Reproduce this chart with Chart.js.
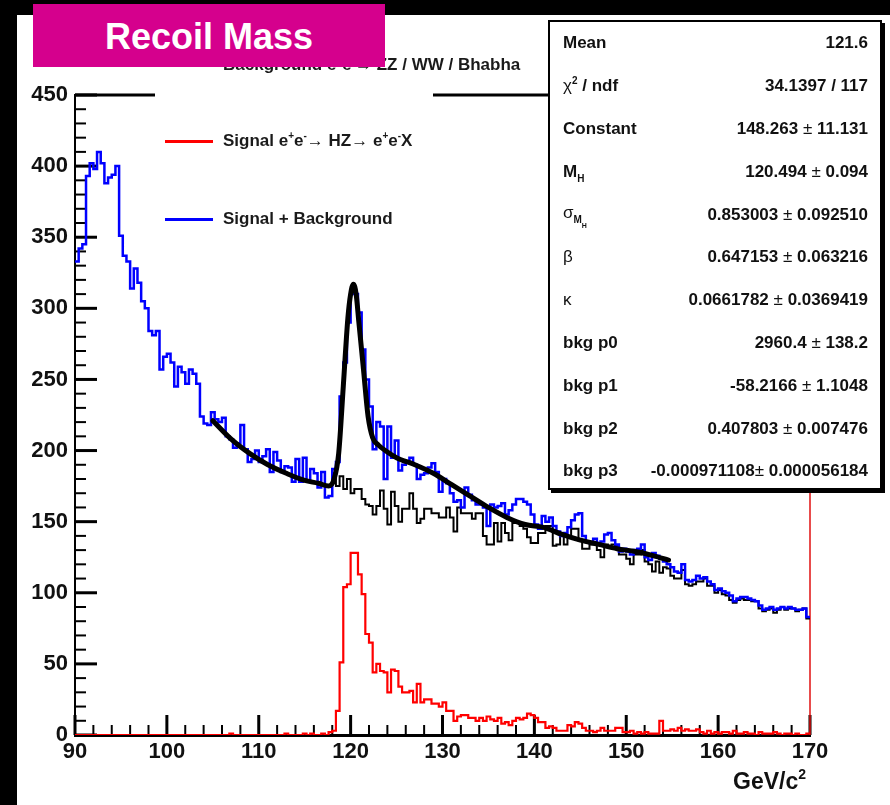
<!DOCTYPE html>
<html>
<head>
<meta charset="utf-8">
<script src="https://cdn.jsdelivr.net/npm/chart.js@4.4.1/dist/chart.umd.min.js"></script>
<style>
  html, body { margin: 0; padding: 0; background: #000; }
  #page { position: relative; width: 890px; height: 805px; overflow: hidden; background: #000;
          font-family: "Liberation Sans", Arial, sans-serif; }
  #paper { position: absolute; left: 17px; top: 15px; right: 0; bottom: 0; background: #fff; }
  #myChart { position: absolute; left: 0; top: 0; }
  #title { position: absolute; left: 33px; top: 4px; width: 352px; height: 63px; background: #d5008d;
           color: #fff; font-weight: bold; font-size: 36px; line-height: 66px; text-align: center; z-index: 5; }
  #legend { position: absolute; left: 155px; top: 48px; width: 278px; height: 192px; background: #fff; z-index: 3; }
  .entry { position: absolute; left: 10px; height: 24px; white-space: nowrap; font-weight: bold;
           font-size: 17px; color: #1a1a1a; }
  .entry .swatch { position: absolute; left: 0; top: 11px; width: 48px; height: 3px; }
  .entry .txt { position: absolute; left: 58px; top: 0; line-height: 24px; }
  sup, sub { font-size: 10px; line-height: 0; }
  sup { vertical-align: 7px; }
  sub { vertical-align: -5px; }
  .sym { font-weight: normal; }
  #stats { position: absolute; left: 548px; top: 20px; width: 334px; height: 470px; box-sizing: border-box;
           border: 2px solid #000; box-shadow: 3px 3px 0 #000; background: #fff; z-index: 4; }
  .row { height: 42.8px; display: flex; justify-content: space-between; align-items: center;
         padding: 0 12px 0 13px; font-weight: bold; font-size: 17px; color: #111; white-space: nowrap; }
  #xtitle { position: absolute; left: 733px; top: 768px; font-weight: bold; font-size: 23px; color: #111; z-index: 2; }
  #xtitle sup { font-size: 14px; vertical-align: 10px; }
</style>
</head>
<body>
<div id="page">
  <div id="paper"></div>
  <canvas id="myChart" width="890" height="805"></canvas>

  <div id="legend">
    <div class="entry" style="top:5px"><span class="swatch" style="background:#000"></span><span class="txt">Background e<sup>+</sup>e<sup>-</sup><span class="sym">→</span> ZZ / WW / Bhabha</span></div>
    <div class="entry" style="top:81px"><span class="swatch" style="background:#ff0000"></span><span class="txt">Signal e<sup>+</sup>e<sup>-</sup><span class="sym">→</span> HZ<span class="sym">→</span> e<sup>+</sup>e<sup>-</sup>X</span></div>
    <div class="entry" style="top:159px"><span class="swatch" style="background:#0000ff"></span><span class="txt">Signal + Background</span></div>
  </div>

  <div id="title">Recoil Mass</div>

  <div id="stats">
    <div class="row"><span>Mean</span><span>121.6</span></div>
    <div class="row"><span><span class="sym">χ</span><sup>2</sup> / ndf</span><span>34.1397 / 117</span></div>
    <div class="row"><span>Constant</span><span>148.263 <span class="sym">±</span> 11.131</span></div>
    <div class="row"><span>M<sub>H</sub></span><span>120.494 <span class="sym">±</span> 0.094</span></div>
    <div class="row"><span><span class="sym">σ</span><sub>M<sub style="font-size:7px">H</sub></sub></span><span>0.853003 <span class="sym">±</span> 0.092510</span></div>
    <div class="row"><span class="sym">β</span><span>0.647153 <span class="sym">±</span> 0.063216</span></div>
    <div class="row"><span class="sym">κ</span><span>0.0661782 <span class="sym">±</span> 0.0369419</span></div>
    <div class="row"><span>bkg p0</span><span>2960.4 <span class="sym">±</span> 138.2</span></div>
    <div class="row"><span>bkg p1</span><span>-58.2166 <span class="sym">±</span> 1.1048</span></div>
    <div class="row"><span>bkg p2</span><span>0.407803 <span class="sym">±</span> 0.007476</span></div>
    <div class="row"><span>bkg p3</span><span>-0.000971108<span class="sym">±</span> 0.000056184</span></div>
  </div>

  <div id="xtitle">GeV/c<sup>2</sup></div>
</div>

<script>
// histogram binning: 200 bins of 0.4 GeV from 90 to 170
const binLow = 90
const binWidth = 0.4

// signal + background (blue)
const sumCounts = [
  333, 342, 345, 393, 402, 398, 410, 402, 388, 392,
  394, 400, 351, 337, 333, 314, 328, 318, 305, 300,
  284, 281, 284, 257, 266, 268, 262, 245, 259, 255,
  247, 257, 254, 247, 224, 219, 218, 227, 222, 220,
  223, 210, 208, 202, 205, 218, 201, 192, 194, 200,
  192, 196, 201, 185, 199, 193, 185, 189, 188, 178,
  194, 178, 195, 178, 187, 184, 174, 185, 167, 168,
  187, 192, 238, 262, 290, 312, 310, 297, 271, 250,
  231, 201, 220, 217, 180, 217, 195, 207, 186, 190,
  192, 195, 190, 180, 183, 184, 188, 191, 185, 171,
  180, 177, 170, 164, 165, 160, 174, 169, 165, 162,
  162, 160, 147, 162, 160, 161, 163, 155, 158, 162,
  166, 166, 164, 162, 155, 148, 145, 154, 150, 153,
  147, 143, 140, 142, 146, 151, 155, 156, 140, 136,
  135, 138, 135, 136, 141, 142, 137, 134, 129, 131,
  129, 127, 130, 131, 134, 125, 123, 128, 126, 124,
  122, 120, 118, 115, 114, 120, 109, 108, 109, 112,
  110, 111, 108, 106, 102, 103, 101, 100, 98, 94,
  96, 97, 97, 96, 95, 94, 91, 88, 89, 90,
  88, 89, 90, 89, 90, 89, 88, 88, 89, 83
]

// signal only (red)
const sigCounts = [
  0, 0, 0, 0, 0, 0, 0, 0, 0, 0,
  0, 0, 0, 0, 0, 0, 0, 0, 0, 0,
  0, 0, 0, 0, 0, 0, 0, 0, 0, 0,
  0, 0, 0, 0, 0, 0, 0, 0, 0, 0,
  0, 0, 1, 0, 0, 0, 0, 0, 0, 0,
  0, 0, 0, 0, 0, 0, 0, 1, 0, 0,
  0, 0, 1, 0, 1, 0, 0, 1, 0, 2,
  3, 17, 51, 104, 106, 128, 128, 113, 99, 71,
  65, 44, 50, 45, 44, 30, 46, 45, 34, 30,
  30, 31, 23, 36, 23, 25, 25, 22, 22, 20,
  23, 17, 17, 10, 13, 14, 14, 12, 12, 10,
  12, 10, 13, 11, 10, 12, 8, 9, 7, 10,
  12, 11, 12, 15, 14, 12, 9, 9, 5, 6,
  5, 3, 3, 3, 7, 6, 9, 8, 5, 3,
  3, 2, 3, 5, 3, 3, 3, 5, 5, 2,
  2, 3, 1, 2, 1, 2, 1, 1, 1, 10,
  3, 3, 4, 3, 5, 3, 4, 3, 3, 4,
  2, 1, 3, 1, 2, 1, 2, 2, 1, 3,
  1, 1, 2, 1, 1, 0, 2, 1, 1, 1,
  2, 1, 0, 1, 1, 0, 1, 0, 0, 1
]

// background only (black), visible from 118 GeV on
const bkgFirstBin = 70
const bkgCounts = [
  184, 175, 182, 173, 180, 170, 173, 173, 166, 162,
  161, 155, 161, 172, 159, 148, 171, 161, 150, 159,
  159, 170, 159, 149, 152, 159, 159, 156, 156, 153,
  153, 160, 153, 143, 160, 156, 156, 156, 152, 156,
  156, 140, 134, 134, 149, 136, 149, 142, 137, 149,
  149, 147, 145, 139, 135, 135, 142, 142, 147, 147,
  133, 134, 142, 134, 140, 145, 145, 137, 131, 131,
  134, 134, 130, 125, 134, 133, 134, 133, 127, 127,
  124, 120, 127, 127, 130, 122, 120, 115, 122, 114,
  118, 117, 112, 110, 110, 116, 106, 105, 106, 108,
  108, 110, 105, 105, 100, 102, 99, 98, 95, 93,
  95, 96, 95, 95, 94, 94, 89, 87, 88, 89,
  86, 88, 90, 88, 89, 89, 87, 88, 89, 82
]

// fitted curve
const fitMass = [105, 107, 109, 111, 113, 115, 116.5, 117.6, 118.2, 118.7, 119.2, 119.7, 120.0, 120.3,
  120.6, 120.9, 121.4, 121.9, 122.4, 123, 124, 125, 127, 129, 131, 133, 135, 137, 139, 141,
  143, 145, 147, 149, 151, 153, 154.6]
const fitCounts = [221, 208, 198, 190, 184, 179, 177, 175, 180, 198, 245, 293, 310, 317,
  310, 290, 257, 224, 209, 204, 199, 195, 190, 184, 176, 168, 160, 153, 148, 146,
  141, 137, 134, 131, 129, 126, 123]

function histPoints(counts, firstBin) {
  const pts = counts.map((c, i) => ({x: binLow + (firstBin + i) * binWidth, y: c}))
  pts.push({x: binLow + (firstBin + counts.length) * binWidth, y: counts[counts.length - 1]})
  return pts
}

const rootFrame = {
  id: 'rootFrame',
  beforeDatasetsDraw(chart) {
    const {ctx, chartArea: a, scales: {x, y}} = chart
    ctx.save()
    ctx.strokeStyle = '#000'
    for (let v = 0; v <= 450; v += 10) {
      const py = y.getPixelForValue(v)
      const major = v % 50 === 0
      ctx.lineWidth = major ? 3 : 2
      ctx.beginPath()
      ctx.moveTo(a.left, py)
      ctx.lineTo(a.left + (major ? 22 : 11), py)
      ctx.stroke()
    }
    for (let v = 90; v <= 170; v += 2) {
      const px = x.getPixelForValue(v)
      const major = v % 10 === 0
      ctx.lineWidth = major ? 3 : 2
      ctx.beginPath()
      ctx.moveTo(px, a.bottom)
      ctx.lineTo(px, a.bottom - (major ? 20 : 10))
      ctx.stroke()
    }
    // top of the frame
    ctx.lineWidth = 3
    ctx.beginPath()
    ctx.moveTo(a.left, a.top)
    ctx.lineTo(a.right + 40, a.top)
    ctx.stroke()
    // right edge of the frame
    ctx.strokeStyle = '#e01010'
    ctx.lineWidth = 1.5
    ctx.beginPath()
    ctx.moveTo(a.right, a.top)
    ctx.lineTo(a.right, a.bottom)
    ctx.stroke()
    ctx.restore()
  }
}

const tickFont = {family: '"Liberation Sans", Arial, sans-serif', size: 22, weight: 'bold'}

const ctx = document.getElementById('myChart')
new Chart(ctx, {
  type: 'line',
  data: {
    datasets: [{
      label: 'Fit',
      data: fitMass.map((m, i) => ({x: m, y: fitCounts[i]})),
      borderColor: '#000',
      borderWidth: 5,
      pointRadius: 0,
      cubicInterpolationMode: 'monotone',
      borderCapStyle: 'round',
      order: 0
    }, {
      label: 'Signal',
      data: histPoints(sigCounts, 0),
      borderColor: '#ff0000',
      borderWidth: 2.2,
      pointRadius: 0,
      stepped: 'before',
      order: 1
    }, {
      label: 'Signal + Background',
      data: histPoints(sumCounts, 0),
      borderColor: '#0000ff',
      borderWidth: 2.5,
      pointRadius: 0,
      stepped: 'before',
      order: 2
    }, {
      label: 'Background',
      data: histPoints(bkgCounts, bkgFirstBin),
      borderColor: '#000',
      borderWidth: 2,
      pointRadius: 0,
      stepped: 'before',
      order: 3
    }]
  },
  options: {
    responsive: false,
    devicePixelRatio: 1,
    animation: false,
    layout: {padding: {left: 0, top: 95, right: 80, bottom: 0}},
    plugins: {legend: {display: false}, tooltip: {enabled: false}},
    scales: {
      x: {
        type: 'linear',
        min: 90,
        max: 170,
        afterFit: (s) => { s.height = 70 },
        grid: {display: false, drawTicks: false},
        border: {display: true, color: '#000', width: 3},
        ticks: {stepSize: 10, autoSkip: false, maxRotation: 0, padding: 4, color: '#111', font: tickFont}
      },
      y: {
        min: 0,
        max: 450,
        afterFit: (s) => { s.width = 75 },
        grid: {display: false, drawTicks: false},
        border: {display: true, color: '#000', width: 2},
        ticks: {stepSize: 50, padding: 7, color: '#111', font: tickFont}
      }
    }
  },
  plugins: [rootFrame]
});
</script>
</body>
</html>
